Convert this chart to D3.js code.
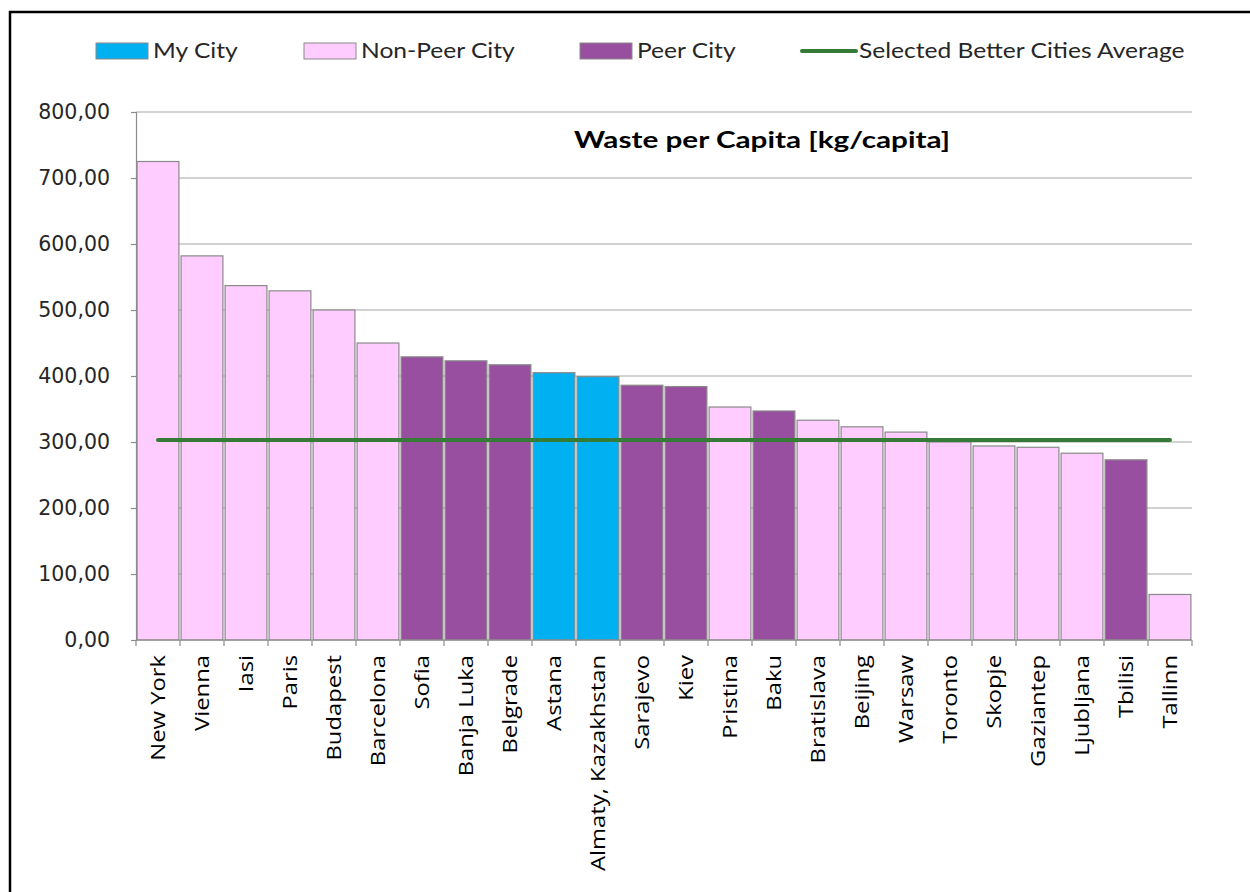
<!DOCTYPE html>
<html><head><meta charset="utf-8">
<script src="https://cdn.jsdelivr.net/npm/d3@7"></script>
<style>
html,body{margin:0;padding:0;background:#fff;}
svg{display:block;font-family:Lato,"Open Sans",sans-serif;}
</style></head>
<body>
<svg id="chart" width="1250" height="892"></svg>
<script>
const categories = ["New York","Vienna","Iasi","Paris","Budapest","Barcelona","Sofia","Banja Luka","Belgrade","Astana","Almaty, Kazakhstan","Sarajevo","Kiev","Pristina","Baku","Bratislava","Beijing","Warsaw","Toronto","Skopje","Gaziantep","Ljubljana","Tbilisi","Tallinn"];
const values = [725,582,537,529,500,450,429,423,417,405,399,386,384,353,347,333,323,315,300,294,292,283,273,69];
const cityTypes = ["Non-Peer City","Non-Peer City","Non-Peer City","Non-Peer City","Non-Peer City","Non-Peer City","Peer City","Peer City","Peer City","My City","My City","Peer City","Peer City","Non-Peer City","Peer City","Non-Peer City","Non-Peer City","Non-Peer City","Non-Peer City","Non-Peer City","Non-Peer City","Non-Peer City","Peer City","Non-Peer City"];
const betterCitiesAverage = 303;
const yTicks = [0,100,200,300,400,500,600,700,800];
const legendItems = ["My City","Non-Peer City","Peer City","Selected Better Cities Average"];
const title = "Waste per Capita [kg/capita]";

const colors = {"My City":"#00B0F0","Non-Peer City":"#FFCCFF","Peer City":"#994FA0"};
const lineColor = "#367A37";

// widen text along its reading direction (reference glyphs are wider than available fonts)
function stretch(sel, k){
  sel.each(function(){
    const w = this.getComputedTextLength();
    d3.select(this).attr("textLength", w*k).attr("lengthAdjust","spacingAndGlyphs");
  });
}

const svg = d3.select("#chart");
// outer frame
svg.append("rect").attr("x",10).attr("y",12).attr("width",1260).attr("height",900)
  .attr("fill","#fff").attr("stroke","#000").attr("stroke-width",2.5);

const pLeft = 136, pRight = 1192, pTop = 112, pBottom = 640;
const x = d3.scaleBand().domain(categories).range([pLeft,pRight]).paddingInner(0.05).paddingOuter(0.025);
const xb = d3.scaleBand().domain(categories).range([pLeft,pRight]);
const y = d3.scaleLinear().domain([0,800]).range([pBottom,pTop]);
const fmt = d3.formatLocale({decimal:",",thousands:".",grouping:[3],currency:["",""]}).format(".2f");

// gridlines
svg.append("g").selectAll("line").data(yTicks.filter(d=>d>0)).join("line")
  .attr("x1",pLeft).attr("x2",pRight).attr("y1",d=>y(d)).attr("y2",d=>y(d))
  .attr("stroke","#A6A6A6").attr("stroke-width",1.2);

// y axis
const yAxis = svg.append("g").attr("transform",`translate(${pLeft},0)`)
  .call(d3.axisLeft(y).tickValues(yTicks).tickFormat(fmt).tickSize(5).tickPadding(21));
yAxis.select(".domain").attr("stroke","#8C8C8C").attr("stroke-width",1.2);
yAxis.selectAll(".tick line").attr("stroke","#8C8C8C").attr("stroke-width",1.2);
yAxis.selectAll("text").attr("font-size",20.5).attr("fill","#262626").attr("font-family","'DejaVu Sans', sans-serif");

// bars
svg.append("g").selectAll("rect").data(categories).join("rect")
  .attr("x",d=>x(d)).attr("width",x.bandwidth())
  .attr("y",(d,i)=>y(values[i])).attr("height",(d,i)=>y(0)-y(values[i]))
  .attr("fill",(d,i)=>colors[cityTypes[i]])
  .attr("stroke","#8A8A8A").attr("stroke-width",1.2);

// x axis
const xAxis = svg.append("g").attr("transform",`translate(0,${pBottom})`);
xAxis.append("line").attr("x1",pLeft).attr("x2",pRight).attr("y1",0).attr("y2",0)
  .attr("stroke","#8C8C8C").attr("stroke-width",1.2);
const bounds = categories.map(c=>xb(c)).concat([pRight]);
xAxis.selectAll("line.tk").data(bounds).join("line").attr("class","tk")
  .attr("x1",d=>d).attr("x2",d=>d).attr("y1",0).attr("y2",6)
  .attr("stroke","#8C8C8C").attr("stroke-width",1.2);
const xl = xAxis.selectAll("text").data(categories).join("text")
  .attr("transform",d=>`translate(${x(d)+x.bandwidth()/2},${15}) rotate(-90)`)
  .attr("text-anchor","end").attr("dy","0.36em")
  .attr("font-family","'Open Sans', sans-serif")
  .attr("font-size",20).attr("fill","#000").text(d=>d);
stretch(xl, 1.19);

// average line
svg.append("line")
  .attr("x1",x(categories[0])+x.bandwidth()/2).attr("x2",x(categories[categories.length-1])+x.bandwidth()/2)
  .attr("y1",y(betterCitiesAverage)).attr("y2",y(betterCitiesAverage))
  .attr("stroke",lineColor).attr("stroke-width",4).attr("stroke-linecap","round");

// title
const tt = svg.append("text").attr("x",762).attr("y",148).attr("text-anchor","middle")
  .attr("font-size",22).attr("font-weight","bold").attr("fill","#000").text(title);
stretch(tt, 1.35);

// legend
const legX = [96,304,580,802];
const lg = svg.append("g");
legendItems.forEach((name,i)=>{
  if (i<3){
    lg.append("rect").attr("x",legX[i]).attr("y",43).attr("width",52).attr("height",16)
      .attr("fill",colors[name]).attr("stroke","#8A8A8A").attr("stroke-width",1);
  } else {
    lg.append("line").attr("x1",legX[i]).attr("x2",legX[i]+54).attr("y1",51).attr("y2",51)
      .attr("stroke",lineColor).attr("stroke-width",4).attr("stroke-linecap","round");
  }
  const t = lg.append("text").attr("x",legX[i]+57).attr("y",51).attr("dy","0.35em")
    .attr("font-size",21).attr("fill","#262626").text(name);
  stretch(t, 1.17);
});
</script>
</body></html>
